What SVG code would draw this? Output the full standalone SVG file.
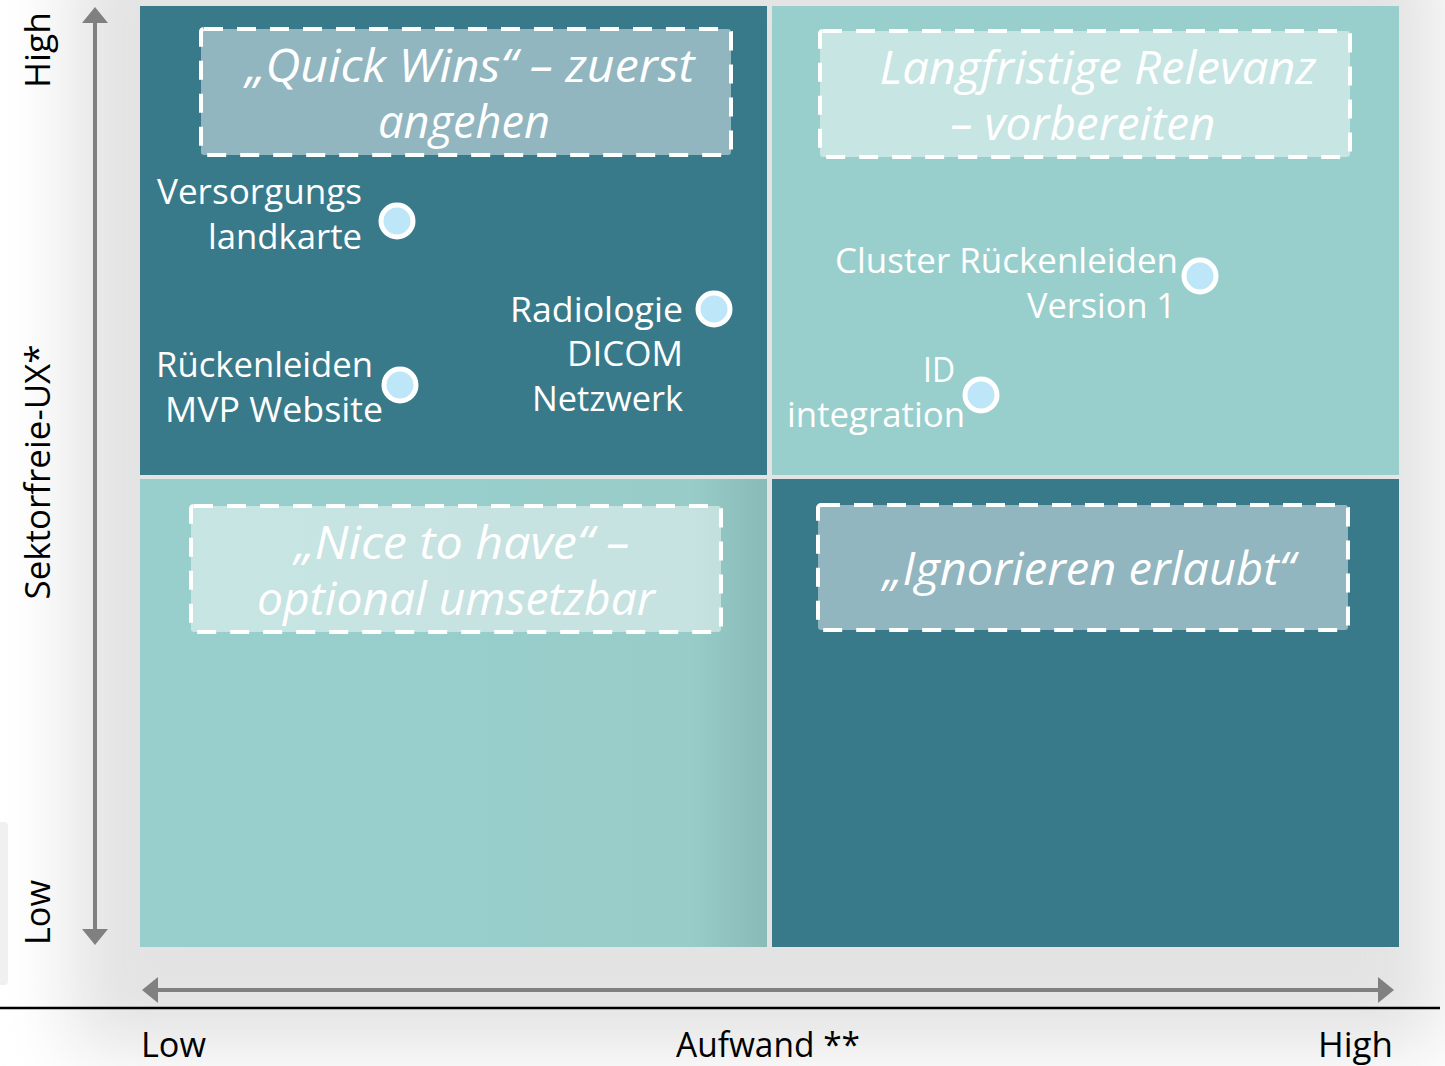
<svg xmlns="http://www.w3.org/2000/svg" width="1445" height="1066" viewBox="0 0 1445 1066">
<defs>
<filter id="blur" x="-20%" y="-20%" width="140%" height="140%"><feGaussianBlur stdDeviation="35"/></filter>
<linearGradient id="blg" x1="0" y1="0" x2="1" y2="0">
<stop offset="0" stop-color="#98cfcc"/><stop offset="0.88" stop-color="#97ccc9"/><stop offset="1" stop-color="#89bbb7"/>
</linearGradient>
<marker id="ah" viewBox="0 0 16 26" refX="2" refY="13" markerWidth="16" markerHeight="26" markerUnits="userSpaceOnUse" orient="auto-start-reverse">
<path d="M0,0 L16,13 L0,26 Z" fill="#808080"/>
</marker>
<style>
.dark{fill:#387a8a}
.light{fill:#98cfcc}
.box{fill:#ffffff;fill-opacity:0.45;stroke:#ffffff;stroke-width:4;stroke-dasharray:19 14}
.bt{font-family:"Open Sans","Noto Sans",sans-serif;font-style:italic;font-size:45px;fill:#ffffff;text-anchor:middle}
.lb{font-family:"Open Sans","Noto Sans",sans-serif;font-size:35px;fill:#ffffff;text-anchor:end}
.ax{font-family:"Open Sans","Noto Sans",sans-serif;font-size:35px;fill:#000000}
.dot{fill:#bde6f9;stroke:#ffffff;stroke-width:5}
.axis{stroke:#808080;stroke-width:4;fill:none}
</style>
</defs>
<rect width="1445" height="1066" fill="#ffffff"/>
<rect x="70" y="-60" width="1370" height="1110" fill="#e3e3e3" filter="url(#blur)"/>
<rect x="-6" y="822" width="14" height="163" rx="4" fill="#f0f0f0"/>

<g id="q-tl"><rect class="dark" x="140" y="6" width="627" height="469"/></g>
<g id="q-tr"><rect class="light" x="772" y="6" width="627" height="469"/></g>
<g id="q-bl"><rect x="140" y="479" width="627" height="468" fill="url(#blg)"/></g>
<g id="q-br"><rect class="dark" x="772" y="479" width="627" height="468"/></g>

<g id="box-quickwins">
<rect class="box" x="201" y="29" width="530" height="126" rx="3"/>
<text class="bt" x="470" y="82" textLength="449" lengthAdjust="spacingAndGlyphs">„Quick Wins“ – zuerst</text>
<text class="bt" x="464" y="138" textLength="172" lengthAdjust="spacingAndGlyphs">angehen</text>
</g>
<g id="box-langfristig">
<rect class="box" x="820" y="31" width="530" height="126" rx="3"/>
<text class="bt" x="1098" y="84" textLength="437" lengthAdjust="spacingAndGlyphs">Langfristige Relevanz</text>
<text class="bt" x="1083" y="140" textLength="265" lengthAdjust="spacingAndGlyphs">– vorbereiten</text>
</g>
<g id="box-nicetohave">
<rect class="box" x="191" y="506" width="530" height="126" rx="3"/>
<text class="bt" x="462" y="559" textLength="335" lengthAdjust="spacingAndGlyphs">„Nice to have“ –</text>
<text class="bt" x="456" y="615" textLength="398" lengthAdjust="spacingAndGlyphs">optional umsetzbar</text>
</g>
<g id="box-ignorieren">
<rect class="box" x="818" y="505" width="530" height="125" rx="3"/>
<text class="bt" x="1089" y="585" textLength="412" lengthAdjust="spacingAndGlyphs">„Ignorieren erlaubt“</text>
</g>

<g id="item-versorgung">
<circle class="dot" cx="397" cy="221" r="16"/>
<text class="lb" x="362" y="204" textLength="205" lengthAdjust="spacingAndGlyphs">Versorgungs</text>
<text class="lb" x="362" y="249" textLength="154" lengthAdjust="spacingAndGlyphs">landkarte</text>
</g>
<g id="item-radiologie">
<circle class="dot" cx="714" cy="309" r="16"/>
<text class="lb" x="683" y="322" textLength="173" lengthAdjust="spacingAndGlyphs">Radiologie</text>
<text class="lb" x="683" y="366" textLength="116" lengthAdjust="spacingAndGlyphs">DICOM</text>
<text class="lb" x="683" y="411" textLength="151" lengthAdjust="spacingAndGlyphs">Netzwerk</text>
</g>
<g id="item-rueckenleiden-mvp">
<circle class="dot" cx="400" cy="385" r="16"/>
<text class="lb" x="373" y="377" textLength="217" lengthAdjust="spacingAndGlyphs">Rückenleiden</text>
<text class="lb" x="383" y="422" textLength="218" lengthAdjust="spacingAndGlyphs">MVP Website</text>
</g>
<g id="item-cluster">
<circle class="dot" cx="1200" cy="276" r="16"/>
<text class="lb" x="1178" y="273" textLength="343" lengthAdjust="spacingAndGlyphs">Cluster Rückenleiden</text>
<text class="lb" x="1176" y="318" textLength="149" lengthAdjust="spacingAndGlyphs">Version 1</text>
</g>
<g id="item-id">
<circle class="dot" cx="981" cy="395" r="16"/>
<text class="lb" x="955" y="382" textLength="32" lengthAdjust="spacingAndGlyphs">ID</text>
<text class="lb" x="965" y="427" textLength="178" lengthAdjust="spacingAndGlyphs">integration</text>
</g>

<g id="connectors">
<line class="axis" x1="95" y1="21" x2="95" y2="931" marker-start="url(#ah)" marker-end="url(#ah)"/>
<line class="axis" x1="156" y1="990" x2="1380" y2="990" marker-start="url(#ah)" marker-end="url(#ah)"/>
<line x1="0" y1="1008" x2="1440" y2="1008" stroke="#000000" stroke-width="2.5"/>
</g>

<g id="axis-labels">
<text class="ax" transform="translate(50,88) rotate(-90)" textLength="76" lengthAdjust="spacingAndGlyphs">High</text>
<text class="ax" transform="translate(50,472) rotate(-90)" text-anchor="middle" textLength="255" lengthAdjust="spacingAndGlyphs">Sektorfreie-UX*</text>
<text class="ax" transform="translate(50,945) rotate(-90)" textLength="65" lengthAdjust="spacingAndGlyphs">Low</text>
<text class="ax" x="141" y="1057" textLength="65" lengthAdjust="spacingAndGlyphs">Low</text>
<text class="ax" x="768" y="1057" text-anchor="middle" textLength="184" lengthAdjust="spacingAndGlyphs">Aufwand **</text>
<text class="ax" x="1393" y="1057" text-anchor="end" textLength="75" lengthAdjust="spacingAndGlyphs">High</text>
</g>
</svg>
